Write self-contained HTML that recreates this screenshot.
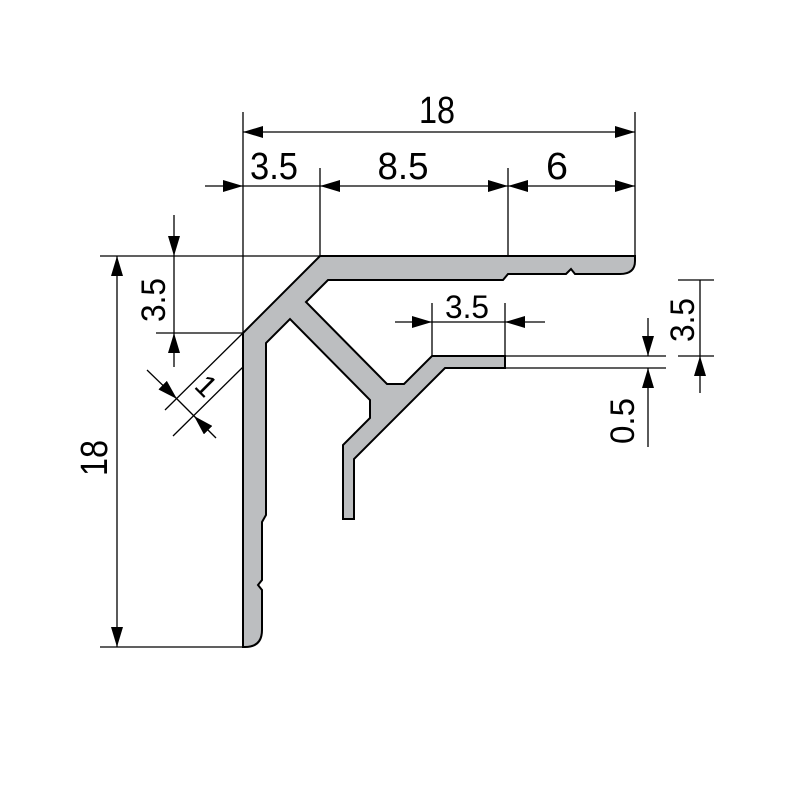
<!DOCTYPE html>
<html><head><meta charset="utf-8"><style>html,body{margin:0;padding:0;background:#fff}svg{display:block}</style></head>
<body>
<svg width="800" height="800" viewBox="0 0 800 800" xmlns="http://www.w3.org/2000/svg">
<defs>
<marker id="a" viewBox="0 0 10 6" refX="10" refY="3" markerWidth="20" markerHeight="12" markerUnits="userSpaceOnUse" orient="auto-start-reverse">
<path d="M0,0 L10,3 L0,6 z" fill="#000"/>
</marker>
</defs>
<g fill="none" stroke="#000" stroke-width="1.3">
<line x1="243" y1="112" x2="243" y2="333"/>
<line x1="635" y1="112" x2="635" y2="256"/>
<line x1="320" y1="168" x2="320" y2="256"/>
<line x1="508" y1="168" x2="508" y2="256"/>
<line x1="100" y1="256" x2="320" y2="256"/>
<line x1="100" y1="647" x2="243" y2="647"/>
<line x1="156" y1="333" x2="243" y2="333"/>
<line x1="243" y1="333" x2="165" y2="410"/>
<line x1="243" y1="367" x2="173" y2="436"/>
<line x1="432" y1="303" x2="432" y2="356"/>
<line x1="505" y1="303" x2="505" y2="368"/>
<line x1="505" y1="356" x2="666" y2="356"/>
<line x1="505" y1="368" x2="666" y2="368"/>
<line x1="678" y1="280" x2="714" y2="280"/>
<line x1="678" y1="356" x2="714" y2="356"/>
<line x1="243" y1="132" x2="635" y2="132" marker-start="url(#a)" marker-end="url(#a)"/>
<line x1="205" y1="186" x2="243" y2="186" marker-end="url(#a)"/>
<line x1="243" y1="186" x2="320" y2="186"/>
<line x1="320" y1="186" x2="508" y2="186" marker-start="url(#a)" marker-end="url(#a)"/>
<line x1="508" y1="186" x2="635" y2="186" marker-start="url(#a)" marker-end="url(#a)"/>
<line x1="117" y1="256" x2="117" y2="647" marker-start="url(#a)" marker-end="url(#a)"/>
<line x1="174" y1="215" x2="174" y2="256" marker-end="url(#a)"/>
<line x1="174" y1="256" x2="174" y2="333"/>
<line x1="174" y1="367" x2="174" y2="333" marker-end="url(#a)"/>
<line x1="147" y1="370" x2="177" y2="399" marker-end="url(#a)"/>
<line x1="177" y1="399" x2="194" y2="416"/>
<line x1="216" y1="438" x2="194" y2="416" marker-end="url(#a)"/>
<line x1="395" y1="322" x2="432" y2="322" marker-end="url(#a)"/>
<line x1="432" y1="322" x2="505" y2="322"/>
<line x1="545" y1="322" x2="505" y2="322" marker-end="url(#a)"/>
<line x1="648" y1="318" x2="648" y2="356" marker-end="url(#a)"/>
<line x1="648" y1="447" x2="648" y2="368" marker-end="url(#a)"/>
<line x1="700" y1="280" x2="700" y2="356"/>
<line x1="700" y1="393" x2="700" y2="356" marker-end="url(#a)"/>
</g>
<path d="M320,256 L635,256 L635,261 Q635,274 620,274 L575,274 L571,269 L566,274 L508,274 L503,280 L328,280 L306,302 L387,384 L404,384 L432,356 L505,356 L505,368 L445,368 L354,459 L354,519 L343,519 L343,445 L370,418 L370,400 L290,319 L266,343 L266,515 L262,522 L262,580 L258,585 L262,590 L262,630 Q262,647 245,647 L243,647 L243,333 Z" fill="#bcbec0" stroke="#000" stroke-width="2" stroke-linejoin="miter"/>
<g font-family="Liberation Sans, sans-serif" font-size="38" fill="#000">
<text x="437" y="123" text-anchor="middle" textLength="36" lengthAdjust="spacingAndGlyphs">18</text>
<text x="274" y="179" text-anchor="middle" textLength="48" lengthAdjust="spacingAndGlyphs">3.5</text>
<text x="403" y="179" text-anchor="middle" textLength="51" lengthAdjust="spacingAndGlyphs">8.5</text>
<text x="557" y="179" text-anchor="middle" textLength="22" lengthAdjust="spacingAndGlyphs">6</text>
<text transform="translate(107,458) rotate(-90)" text-anchor="middle" textLength="36" lengthAdjust="spacingAndGlyphs">18</text>
<text transform="translate(165,300) rotate(-90)" text-anchor="middle" font-size="34" textLength="44" lengthAdjust="spacingAndGlyphs">3.5</text>
<text x="467" y="318" text-anchor="middle" font-size="32" textLength="44" lengthAdjust="spacingAndGlyphs">3.5</text>
<text transform="translate(634,421) rotate(-90)" text-anchor="middle" font-size="34" textLength="46" lengthAdjust="spacingAndGlyphs">0.5</text>
<text transform="translate(694,320) rotate(-90)" text-anchor="middle" font-size="34" textLength="44" lengthAdjust="spacingAndGlyphs">3.5</text>
<text transform="translate(199,393) rotate(45)" text-anchor="middle" font-size="30">1</text>
</g>
</svg>
</body></html>
